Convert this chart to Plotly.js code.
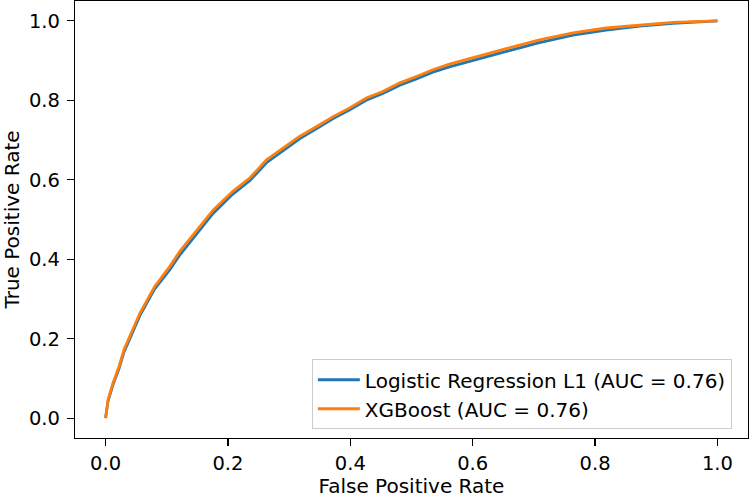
<!DOCTYPE html>
<html>
<head>
<meta charset="utf-8">
<script src="https://cdn.plot.ly/plotly-3.0.1.min.js"></script>
<style>
  body { margin: 0; background: #fff; }
  #roc { width: 750px; height: 498px; }
</style>
</head>
<body>
<div id="roc"></div>
<script>
// ROC points
const fpr = [0, 0.002, 0.004, 0.012, 0.022, 0.030, 0.037, 0.056, 0.080, 0.105, 0.121, 0.149,
  0.176, 0.208, 0.236, 0.263, 0.290, 0.317, 0.345, 0.372, 0.399, 0.426, 0.453, 0.481,
  0.508, 0.535, 0.562, 0.590, 0.620, 0.655, 0.709, 0.764, 0.818, 0.873, 0.927, 1.0];
const tprXgb = [0, 0.025, 0.046, 0.088, 0.130, 0.172, 0.197, 0.264, 0.331, 0.382, 0.419, 0.474,
  0.524, 0.571, 0.605, 0.650, 0.680, 0.709, 0.734, 0.759, 0.781, 0.806, 0.822, 0.844,
  0.860, 0.877, 0.891, 0.903, 0.914, 0.930, 0.952, 0.970, 0.982, 0.990, 0.996, 1.0];
const tprLogit = [0, 0.022, 0.043, 0.084, 0.125, 0.166, 0.190, 0.258, 0.325, 0.374, 0.410, 0.465,
  0.516, 0.564, 0.598, 0.643, 0.674, 0.703, 0.729, 0.754, 0.776, 0.800, 0.817, 0.838,
  0.854, 0.871, 0.884, 0.896, 0.907, 0.923, 0.945, 0.964, 0.977, 0.987, 0.994, 1.0];
const names = ["Logistic Regression L1 (AUC = 0.76)", "XGBoost (AUC = 0.76)"];
const colors = ["#1f77b4", "#ff7f0e"];

const traces = [tprLogit, tprXgb].map((tpr, i) => ({
  x: fpr,
  y: tpr,
  type: "scatter",
  mode: "lines",
  name: names[i],
  line: { color: colors[i], width: 2.8 },
}));

const axis = {
  range: [-0.05, 1.05],
  tickmode: "linear",
  tick0: 0,
  dtick: 0.2,
  tickformat: ".1f",
  ticks: "outside",
  ticklen: 7,
  tickwidth: 1.2,
  tickcolor: "#000",
  showline: true,
  linecolor: "#000",
  linewidth: 1.2,
  mirror: true,
  showgrid: false,
  zeroline: false,
  automargin: false,
  tickfont: { size: 19.5, color: "#000" },
};

const layout = {
  width: 750,
  height: 498,
  margin: { l: 75, r: 2, t: 1, b: 60 },
  paper_bgcolor: "#fff",
  plot_bgcolor: "#fff",
  font: { family: "DejaVu Sans", color: "#000", size: 20 },
  showlegend: true,
  xaxis: Object.assign({}, axis, {
    ticklabelstandoff: 0,
    title: { text: "False Positive Rate", font: { size: 20 }, standoff: 15 },
  }),
  yaxis: Object.assign({}, axis, {
    ticklabelstandoff: 3,
    title: { text: "True Positive Rate", font: { size: 20 }, standoff: 6 },
  }),
  legend: {
    x: 0.976,
    y: 0.02,
    xanchor: "right",
    yanchor: "bottom",
    bgcolor: "rgba(255,255,255,0.8)",
    bordercolor: "#cccccc",
    borderwidth: 1,
    font: { size: 20 },
    itemwidth: 42,
    tracegroupgap: 0,
  },
};

Plotly.newPlot("roc", traces, layout, { displayModeBar: false, staticPlot: true });
</script>
</body>
</html>
